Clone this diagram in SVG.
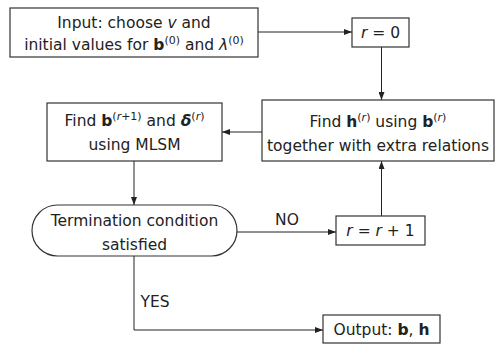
<svg xmlns="http://www.w3.org/2000/svg" width="495" height="344" viewBox="0 0 495 344">
<style>
.box{fill:#fff;stroke:#333;stroke-width:1.2}
.ln{fill:none;stroke:#222;stroke-width:1}
text{font-family:"DejaVu Sans","Liberation Sans",sans-serif;font-size:15.5px;fill:#222;text-anchor:middle}
.it{font-style:italic}
.bf{font-weight:bold}
.sup{font-size:11px}
</style>
<defs>
<marker id="ah" viewBox="0 0 8 6" refX="8" refY="3" markerWidth="8" markerHeight="6" markerUnits="userSpaceOnUse" orient="auto">
<path d="M0,0 L8,3 L0,6 z" fill="#222"/>
</marker>
</defs>
<rect width="495" height="344" fill="#fff"/>
<g id="connectors">
<path class="ln" d="M258,32 H352" marker-end="url(#ah)"/>
<path class="ln" d="M381.5,47 V100" marker-end="url(#ah)"/>
<path class="ln" d="M262,132 H222" marker-end="url(#ah)"/>
<path class="ln" d="M134,161 V205" marker-end="url(#ah)"/>
<path class="ln" d="M237,232 H336" marker-end="url(#ah)"/>
<path class="ln" d="M381.5,216 V161" marker-end="url(#ah)"/>
<path class="ln" d="M134,256 V330 H323" marker-end="url(#ah)"/>
<text x="287" y="225">NO</text>
<text x="155" y="307">YES</text>
</g>
<g id="input">
<rect class="box" x="10" y="8" width="248" height="49"/>
<text x="134" y="28">Input: choose <tspan class="it">v</tspan> and</text>
<text x="134" y="50">initial values for <tspan class="bf">b</tspan><tspan class="sup" dy="-6">(0)</tspan><tspan dy="6"> and </tspan><tspan class="it">λ</tspan><tspan class="sup" dy="-6">(0)</tspan></text>
</g>
<g id="r0">
<rect class="box" x="352" y="18" width="57" height="29"/>
<text x="380.5" y="38"><tspan class="it">r</tspan> = 0</text>
</g>
<g id="findh">
<rect class="box" x="262" y="100" width="232" height="61"/>
<text x="378" y="127">Find <tspan class="bf">h</tspan><tspan class="sup" dy="-6">(<tspan class="it">r</tspan>)</tspan><tspan dy="6"> using </tspan><tspan class="bf">b</tspan><tspan class="sup" dy="-6">(<tspan class="it">r</tspan>)</tspan></text>
<text x="378" y="151">together with extra relations</text>
</g>
<g id="findb">
<rect class="box" x="47" y="103" width="175" height="58"/>
<text x="134.5" y="126">Find <tspan class="bf">b</tspan><tspan class="sup" dy="-6">(<tspan class="it">r</tspan>+1)</tspan><tspan dy="6"> and </tspan><tspan class="bf it">δ</tspan><tspan class="sup" dy="-6">(<tspan class="it">r</tspan>)</tspan></text>
<text x="134.5" y="150">using MLSM</text>
</g>
<g id="term">
<rect class="box" x="32" y="205" width="205" height="51" rx="25.5" ry="25.5"/>
<text x="134.5" y="226">Termination condition</text>
<text x="134.5" y="250">satisfied</text>
</g>
<g id="rinc">
<rect class="box" x="336" y="216" width="89" height="29"/>
<text x="380.5" y="236"><tspan class="it">r</tspan> = <tspan class="it">r</tspan> + 1</text>
</g>
<g id="output">
<rect class="box" x="323" y="315" width="117" height="28"/>
<text x="381.5" y="335">Output: <tspan class="bf">b</tspan>, <tspan class="bf">h</tspan></text>
</g>
</svg>
